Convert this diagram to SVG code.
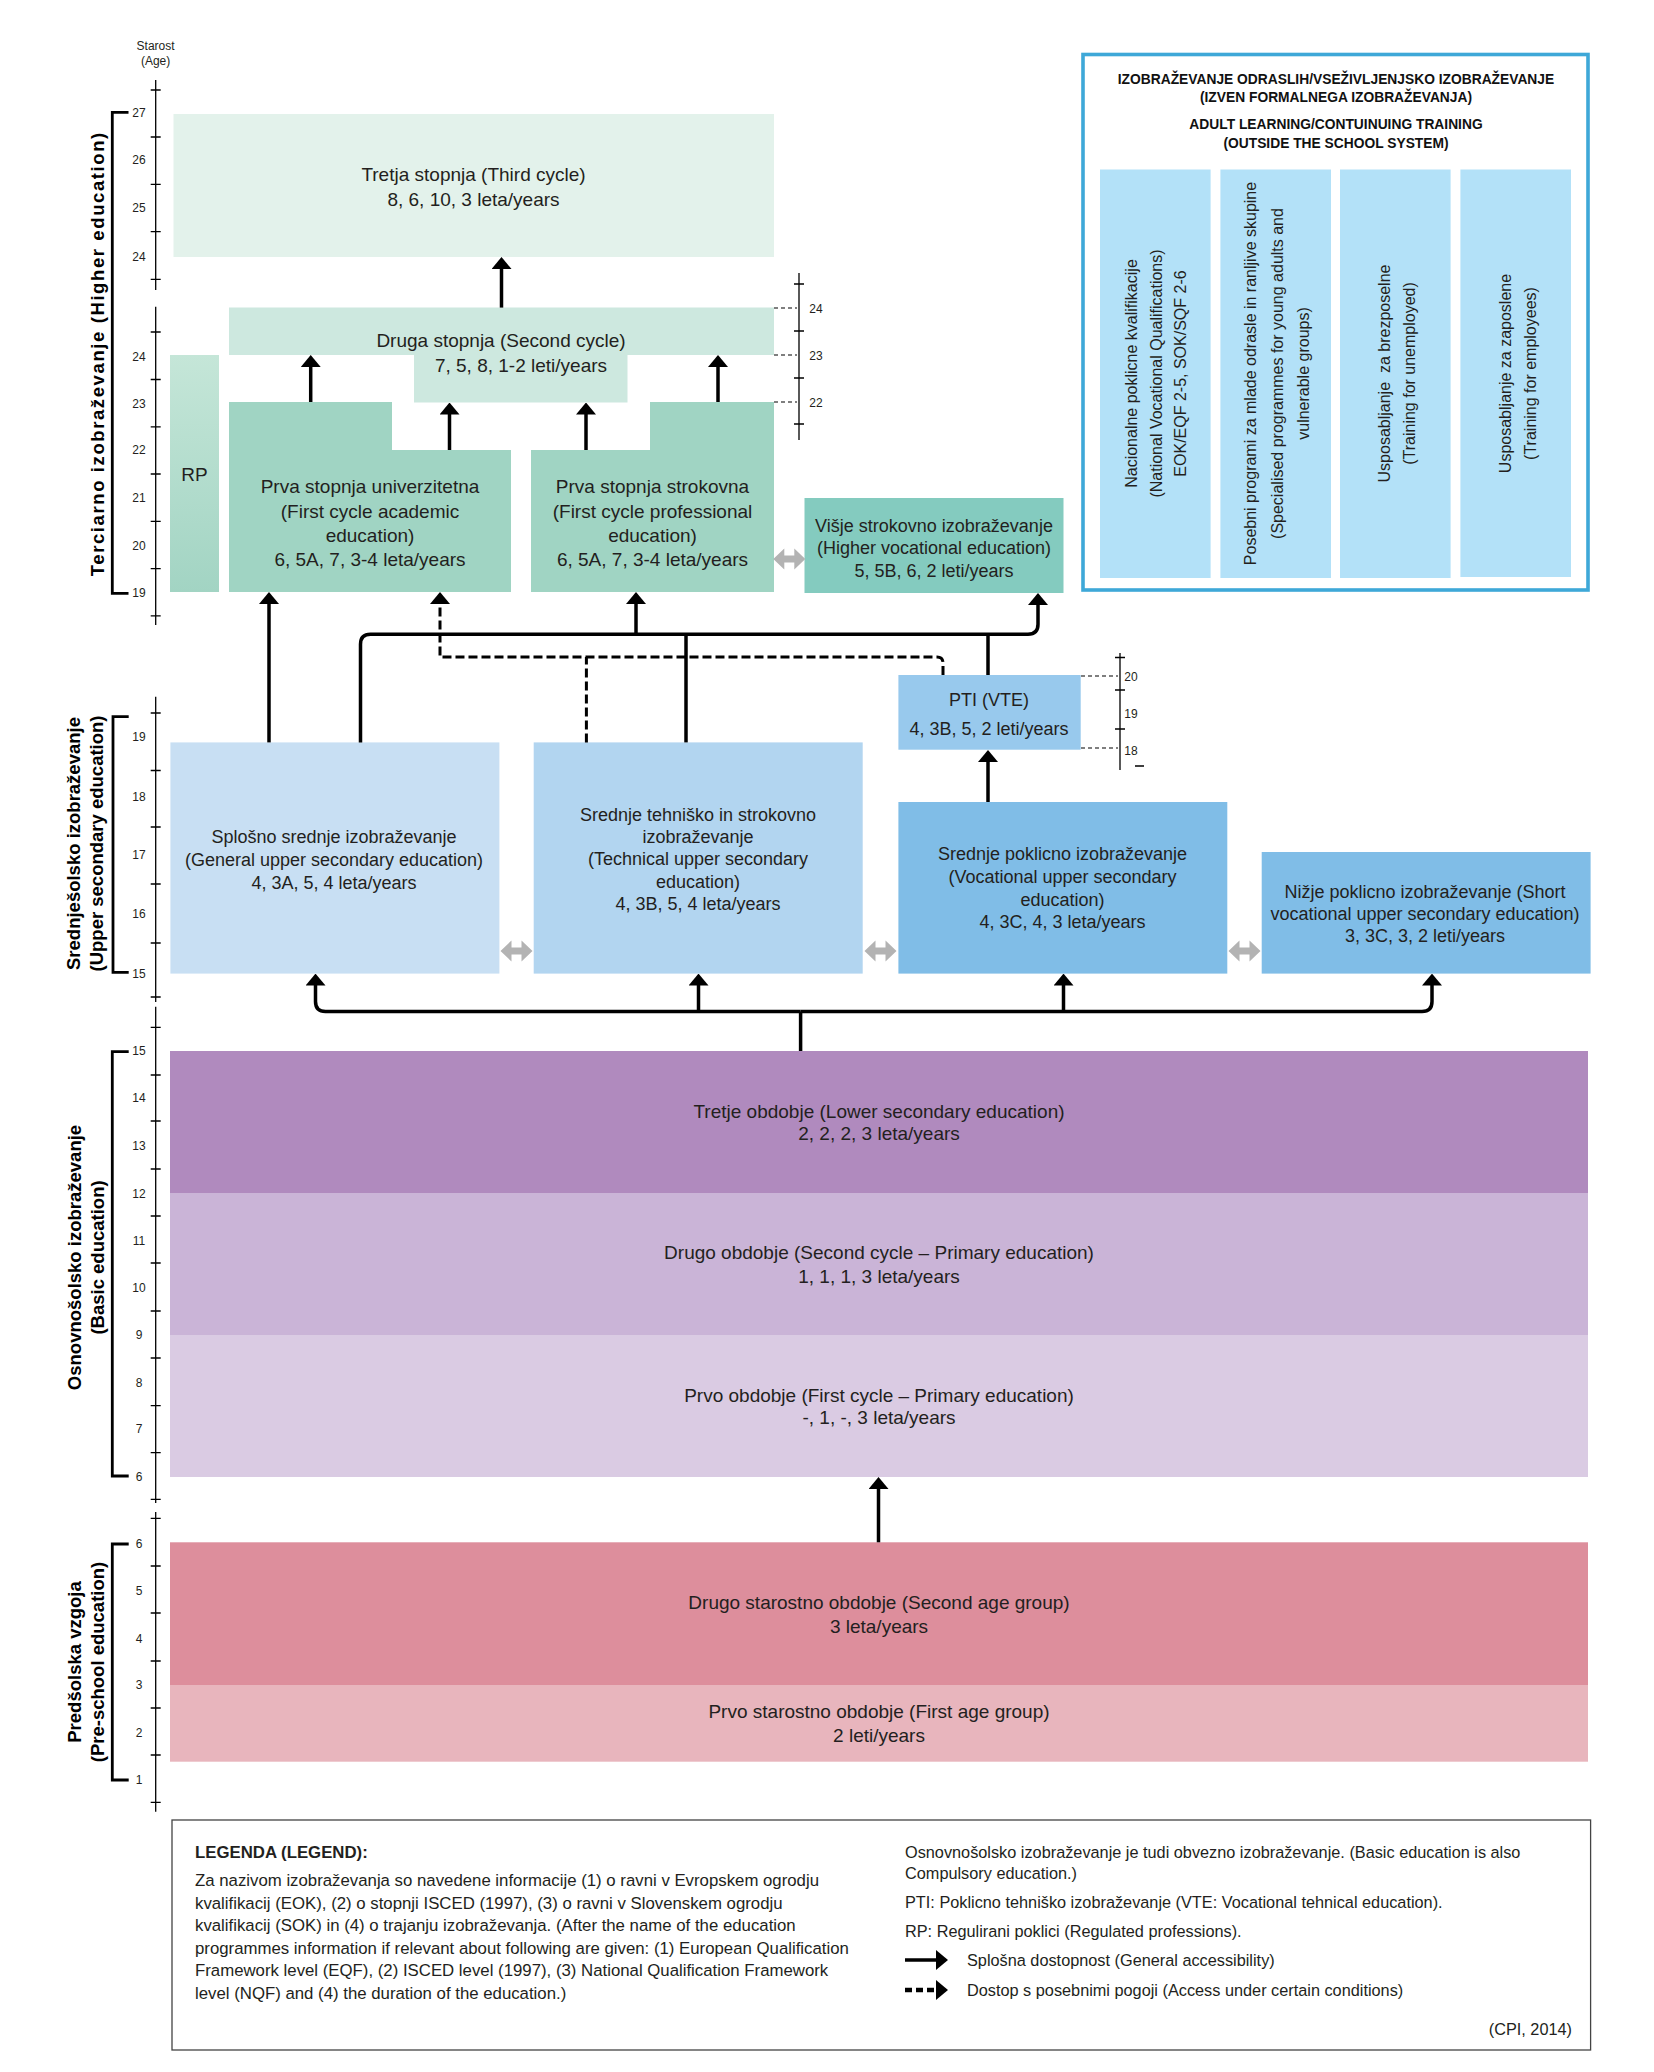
<svg xmlns="http://www.w3.org/2000/svg" xmlns:xlink="http://www.w3.org/1999/xlink" width="1654" height="2072" viewBox="0 0 1654 2072">
<style>
text{font-family:"Liberation Sans",Arial,sans-serif;fill:#231f20}
.bx{font-size:19px;text-anchor:middle}
.sx{font-size:18px;text-anchor:middle}
.ax{font-size:12px;text-anchor:middle}
.lab{font-weight:bold;text-anchor:middle;font-size:18.5px;fill:#000}
.ad{font-size:16px;text-anchor:middle}
.adt{font-size:13.8px;font-weight:bold;text-anchor:middle;fill:#111}
.lg{font-size:16.8px}
.lr{font-size:16.3px}
.axis{stroke:#000;stroke-width:1.3;fill:none}
.brk{stroke:#000;stroke-width:2.8;fill:none}
.sol{stroke:#000;stroke-width:3.5;fill:none}
.dsh{stroke:#000;stroke-width:3;fill:none;stroke-dasharray:9 4}
.thd{stroke:#000;stroke-width:1.2;fill:none;stroke-dasharray:4 3}
</style>
<defs>
<marker id="ah" viewBox="0 0 12 20" refX="8" refY="10" markerWidth="12" markerHeight="20" markerUnits="userSpaceOnUse" orient="auto"><path d="M0,0 L12,10 L0,20 z" fill="#000"/></marker>
<path id="dbl" d="M-16,0 L-5,-10.5 L-5,-3.5 L5,-3.5 L5,-10.5 L16,0 L5,10.5 L5,3.5 L-5,3.5 L-5,10.5 Z" fill="#b3b3b3"/>
<linearGradient id="rpg" x1="0" y1="0" x2="0" y2="1"><stop offset="0" stop-color="#c5e6d8"/><stop offset="1" stop-color="#a2d4c3"/></linearGradient>
</defs>
<rect width="1654" height="2072" fill="#fff"/>

<g id="age-axis">
<text class="ax" x="155.6" y="50" font-size="11">Starost</text>
<text class="ax" x="155.6" y="65" font-size="11">(Age)</text>
<path class="axis" d="M155.7,80V290 M155.7,306.7V625 M155.7,696.7V1002 M155.7,1006.7V1503 M155.7,1512V1811.7"/>
<path class="axis" d="M150.7,90H160.7 M150.7,137H160.7 M150.7,184.3H160.7 M150.7,231.7H160.7 M150.7,279.3H160.7 M150.7,332H160.7 M150.7,379.5H160.7 M150.7,426.8H160.7 M150.7,474H160.7 M150.7,521.3H160.7 M150.7,568.6H160.7 M150.7,615.9H160.7 M150.7,713H160.7 M150.7,770.5H160.7 M150.7,827H160.7 M150.7,884H160.7 M150.7,943H160.7 M150.7,997H160.7 M150.7,1027.3H160.7 M150.7,1075H160.7 M150.7,1121H160.7 M150.7,1169H160.7 M150.7,1216H160.7 M150.7,1263H160.7 M150.7,1311H160.7 M150.7,1358H160.7 M150.7,1405.6H160.7 M150.7,1452.6H160.7 M150.7,1499.3H160.7 M150.7,1518.3H160.7 M150.7,1566H160.7 M150.7,1613H160.7 M150.7,1661H160.7 M150.7,1708H160.7 M150.7,1755H160.7 M150.7,1802.3H160.7"/>
<g>
<text class="ax" x="139" y="116.5">27</text><text class="ax" x="139" y="163.5">26</text><text class="ax" x="139" y="212">25</text><text class="ax" x="139" y="260.5">24</text>
<text class="ax" x="139" y="360.5">24</text><text class="ax" x="139" y="407.5">23</text><text class="ax" x="139" y="454">22</text><text class="ax" x="139" y="501.5">21</text><text class="ax" x="139" y="549.5">20</text><text class="ax" x="139" y="596.5">19</text>
<text class="ax" x="139" y="741">19</text><text class="ax" x="139" y="800.5">18</text><text class="ax" x="139" y="859">17</text><text class="ax" x="139" y="917.5">16</text><text class="ax" x="139" y="977.5">15</text>
<text class="ax" x="139" y="1054.5">15</text><text class="ax" x="139" y="1101.5">14</text><text class="ax" x="139" y="1149.5">13</text><text class="ax" x="139" y="1197.5">12</text><text class="ax" x="139" y="1244.5">11</text><text class="ax" x="139" y="1291.5">10</text><text class="ax" x="139" y="1338.5">9</text><text class="ax" x="139" y="1386.5">8</text><text class="ax" x="139" y="1433">7</text><text class="ax" x="139" y="1481">6</text>
<text class="ax" x="139" y="1547.5">6</text><text class="ax" x="139" y="1594.5">5</text><text class="ax" x="139" y="1642.5">4</text><text class="ax" x="139" y="1688.5">3</text><text class="ax" x="139" y="1736.5">2</text><text class="ax" x="139" y="1783.5">1</text>
</g>
<path class="brk" d="M128.5,112.3H112.3V593.3H128.5 M128.7,716.7H113V972.3H128.7 M128.7,1051.7H112.3V1476H128.7 M128.7,1544H112.3V1780H128.7"/>
<text class="lab" font-size="23" letter-spacing="1.6" transform="translate(103.5,353.7) rotate(-90)">Terciarno izobraževanje (Higher education)</text>
<text class="lab" transform="translate(80,843.5) rotate(-90)">Srednješolsko izobraževanje</text>
<text class="lab" transform="translate(103,843.5) rotate(-90)">(Upper secondary education)</text>
<text class="lab" transform="translate(80.5,1257.5) rotate(-90)">Osnovnošolsko izobraževanje</text>
<text class="lab" transform="translate(104,1257.5) rotate(-90)">(Basic education)</text>
<text class="lab" transform="translate(80.5,1662) rotate(-90)">Predšolska vzgoja</text>
<text class="lab" transform="translate(104,1662) rotate(-90)">(Pre-school education)</text>
</g>

<g id="scale-second-cycle">
<path class="axis" d="M799,273V440 M794,284H804 M794,331H804 M794,378H804 M794,424H804"/>
<path class="thd" d="M774,308H797 M774,355H797 M774,402H797"/>
<text class="ax" x="816" y="312.5">24</text><text class="ax" x="816" y="359.5">23</text><text class="ax" x="816" y="406.5">22</text>
</g>
<g id="scale-pti">
<path class="axis" d="M1120,653V770 M1115,657.5H1125 M1115,690H1125 M1115,729H1125 M1135,766H1144"/>
<path class="thd" d="M1081,676H1118 M1081,748H1118"/>
<text class="ax" x="1131" y="681">20</text><text class="ax" x="1131" y="717.5">19</text><text class="ax" x="1131" y="754.5">18</text>
</g>

<g id="third-cycle">
<rect x="173.5" y="114" width="600.5" height="143" fill="#e3f2eb"/>
<text class="bx" x="473.5" y="180.5">Tretja stopnja (Third cycle)</text>
<text class="bx" x="473.5" y="205.5">8, 6, 10, 3 leta/years</text>
</g>
<g id="second-cycle">
<path d="M229,307.6H774V355H627.5V402.5H414V355H229Z" fill="#cde8df"/>
<text class="bx" x="501" y="347">Druga stopnja (Second cycle)</text>
<text class="bx" x="521" y="372">7, 5, 8, 1-2 leti/years</text>
</g>
<g id="rp">
<rect x="170" y="355" width="49" height="237" fill="url(#rpg)"/>
<text class="bx" x="194.5" y="481">RP</text>
</g>
<g id="first-cycle-academic">
<path d="M229,402H392V450H511V592H229Z" fill="#a0d4c3"/>
<text class="bx" x="370" y="493">Prva stopnja univerzitetna</text>
<text class="bx" x="370" y="517.5">(First cycle academic</text>
<text class="bx" x="370" y="542">education)</text>
<text class="bx" x="370" y="566">6, 5A, 7, 3-4 leta/years</text>
</g>
<g id="first-cycle-professional">
<path d="M531,450H650V402H774V592H531Z" fill="#a0d4c3"/>
<text class="bx" x="652.5" y="493">Prva stopnja strokovna</text>
<text class="bx" x="652.5" y="517.5">(First cycle professional</text>
<text class="bx" x="652.5" y="542">education)</text>
<text class="bx" x="652.5" y="566">6, 5A, 7, 3-4 leta/years</text>
</g>
<g id="higher-vocational">
<rect x="804.5" y="498" width="259" height="95" fill="#84cbbf"/>
<text class="sx" x="934" y="532">Višje strokovno izobraževanje</text>
<text class="sx" x="934" y="554">(Higher vocational education)</text>
<text class="sx" x="934" y="577">5, 5B, 6, 2 leti/years</text>
</g>

<g id="adult-learning">
<rect x="1083" y="54.5" width="505" height="535.5" fill="#fff" stroke="#3ea8d8" stroke-width="3.6"/>
<text class="adt" x="1336" y="84">IZOBRAŽEVANJE ODRASLIH/VSEŽIVLJENJSKO IZOBRAŽEVANJE</text>
<text class="adt" x="1336" y="102">(IZVEN FORMALNEGA IZOBRAŽEVANJA)</text>
<text class="adt" x="1336" y="129">ADULT LEARNING/CONTUINUING TRAINING</text>
<text class="adt" x="1336" y="147.5">(OUTSIDE THE SCHOOL SYSTEM)</text>
<rect x="1100" y="169.5" width="110.6" height="408.5" fill="#b3e1f8"/>
<rect x="1220.4" y="169.5" width="110.6" height="408.5" fill="#b3e1f8"/>
<rect x="1340" y="169.5" width="110.6" height="408.5" fill="#b3e1f8"/>
<rect x="1460.4" y="169.5" width="110.6" height="407.5" fill="#b3e1f8"/>
<text class="ad" transform="translate(1137,373.5) rotate(-90)">Nacionalne poklicne kvalifikacije</text>
<text class="ad" transform="translate(1161.5,373.5) rotate(-90)">(National Vocational Qualifications)</text>
<text class="ad" transform="translate(1186,373.5) rotate(-90)">EOK/EQF 2-5, SOK/SQF 2-6</text>
<text class="ad" transform="translate(1256,373.5) rotate(-90)">Posebni programi za mlade odrasle in ranljive skupine</text>
<text class="ad" transform="translate(1282.5,373.5) rotate(-90)">(Specialised programmes for young adults and</text>
<text class="ad" transform="translate(1309,373.5) rotate(-90)">vulnerable groups)</text>
<text class="ad" transform="translate(1390,373.5) rotate(-90)">Usposabljanje&#160; za brezposelne</text>
<text class="ad" transform="translate(1414.5,373.5) rotate(-90)">(Training for unemployed)</text>
<text class="ad" transform="translate(1510.5,373.5) rotate(-90)">Usposabljanje za zaposlene</text>
<text class="ad" transform="translate(1535.5,373.5) rotate(-90)">(Training for employees)</text>
</g>

<g id="pti">
<rect x="898.4" y="675" width="182.3" height="74.7" fill="#98c9ed"/>
<text class="sx" x="989" y="705.5">PTI (VTE)</text>
<text class="sx" x="989" y="734.5">4, 3B, 5, 2 leti/years</text>
</g>
<g id="general-upper-secondary">
<rect x="170.4" y="742.4" width="329" height="231.2" fill="#c8dff3"/>
<text class="sx" x="334" y="843">Splošno srednje izobraževanje</text>
<text class="sx" x="334" y="865.5">(General upper secondary education)</text>
<text class="sx" x="334" y="888.5">4, 3A, 5, 4 leta/years</text>
</g>
<g id="technical-upper-secondary">
<rect x="533.7" y="742.4" width="329" height="231.2" fill="#b2d5f0"/>
<text class="sx" x="698" y="820.5">Srednje tehniško in strokovno</text>
<text class="sx" x="698" y="842.5">izobraževanje</text>
<text class="sx" x="698" y="865">(Technical upper secondary</text>
<text class="sx" x="698" y="887.5">education)</text>
<text class="sx" x="698" y="910">4, 3B, 5, 4 leta/years</text>
</g>
<g id="vocational-upper-secondary">
<rect x="898.4" y="802" width="328.9" height="171.6" fill="#80bde7"/>
<text class="sx" x="1062.5" y="860">Srednje poklicno izobraževanje</text>
<text class="sx" x="1062.5" y="882.5">(Vocational upper secondary</text>
<text class="sx" x="1062.5" y="905.5">education)</text>
<text class="sx" x="1062.5" y="928">4, 3C, 4, 3 leta/years</text>
</g>
<g id="short-vocational">
<rect x="1261.7" y="852" width="328.9" height="121.6" fill="#80bde7"/>
<text class="sx" x="1425" y="898">Nižje poklicno izobraževanje (Short</text>
<text class="sx" x="1425" y="919.5">vocational upper secondary education)</text>
<text class="sx" x="1425" y="942">3, 3C, 3, 2 leti/years</text>
</g>

<g id="basic-third-period">
<rect x="170" y="1051" width="1418" height="142" fill="#b08abe"/>
<text class="bx" x="879" y="1117.5">Tretje obdobje (Lower secondary education)</text>
<text class="bx" x="879" y="1140">2, 2, 2, 3 leta/years</text>
</g>
<g id="basic-second-period">
<rect x="170" y="1193" width="1418" height="142" fill="#cab4d7"/>
<text class="bx" x="879" y="1259">Drugo obdobje (Second cycle – Primary education)</text>
<text class="bx" x="879" y="1282.5">1, 1, 1, 3 leta/years</text>
</g>
<g id="basic-first-period">
<rect x="170" y="1335" width="1418" height="142" fill="#dacbe3"/>
<text class="bx" x="879" y="1401.5">Prvo obdobje (First cycle – Primary education)</text>
<text class="bx" x="879" y="1424">-, 1, -, 3 leta/years</text>
</g>
<g id="preschool-second-age">
<rect x="170" y="1542.3" width="1418" height="142.7" fill="#dd8e9c"/>
<text class="bx" x="879" y="1609">Drugo starostno obdobje (Second age group)</text>
<text class="bx" x="879" y="1632.5">3 leta/years</text>
</g>
<g id="preschool-first-age">
<rect x="170" y="1685" width="1418" height="76.7" fill="#e8b5bd"/>
<text class="bx" x="879" y="1717.5">Prvo starostno obdobje (First age group)</text>
<text class="bx" x="879" y="1742">2 leti/years</text>
</g>

<g id="connectors">
<path class="sol" marker-end="url(#ah)" d="M501.5,307.6V261"/>
<path class="sol" marker-end="url(#ah)" d="M310.7,402V359"/>
<path class="sol" marker-end="url(#ah)" d="M718,402V359"/>
<path class="sol" marker-end="url(#ah)" d="M449.5,450V406.5"/>
<path class="sol" marker-end="url(#ah)" d="M586,450V406.5"/>
<path class="sol" marker-end="url(#ah)" d="M269,742.4V596"/>
<path class="sol" marker-end="url(#ah)" d="M360.5,742.4V644.3Q360.5,634.3 370.5,634.3H1028Q1038,634.3 1038,624.3V597"/>
<path class="sol" marker-end="url(#ah)" d="M636,634.3V596"/>
<path class="sol" d="M686,742.4V634.3"/>
<path class="sol" d="M988,675V634.3"/>
<path class="sol" marker-end="url(#ah)" d="M988,802V754"/>
<path class="dsh" marker-end="url(#ah)" d="M943,675V663Q943,657 937,657H440V596"/>
<path class="dsh" d="M586.4,742.4V657"/>
<path class="sol" d="M800.6,1051V1011.5"/>
<path class="sol" marker-end="url(#ah)" d="M800.6,1011.5H325.5Q315.5,1011.5 315.5,1001.5V977.6"/>
<path class="sol" marker-end="url(#ah)" d="M800.6,1011.5H1422Q1432,1011.5 1432,1001.5V977.6"/>
<path class="sol" marker-end="url(#ah)" d="M698.5,1011.5V977.6"/>
<path class="sol" marker-end="url(#ah)" d="M1063.5,1011.5V977.6"/>
<path class="sol" marker-end="url(#ah)" d="M878.5,1542.3V1481"/>
<use xlink:href="#dbl" transform="translate(789.3,559)"/>
<use xlink:href="#dbl" transform="translate(516.5,951)"/>
<use xlink:href="#dbl" transform="translate(880.5,951)"/>
<use xlink:href="#dbl" transform="translate(1244.5,951)"/>
</g>

<g id="legend">
<rect x="172" y="1820" width="1418.6" height="230" fill="none" stroke="#444" stroke-width="1.3"/>
<text class="lg" x="195" y="1858" font-weight="bold" font-size="15.5">LEGENDA (LEGEND):</text>
<text class="lg" x="195" y="1886">Za nazivom izobraževanja so navedene informacije (1) o ravni v Evropskem ogrodju</text>
<text class="lg" x="195" y="1908.5">kvalifikacij (EOK), (2) o stopnji ISCED (1997), (3) o ravni v Slovenskem ogrodju</text>
<text class="lg" x="195" y="1931">kvalifikacij (SOK) in (4) o trajanju izobraževanja. (After the name of the education</text>
<text class="lg" x="195" y="1953.5">programmes information if relevant about following are given: (1) European Qualification</text>
<text class="lg" x="195" y="1976">Framework level (EQF), (2) ISCED level (1997), (3) National Qualification Framework</text>
<text class="lg" x="195" y="1998.5">level (NQF) and (4) the duration of the education.)</text>
<text class="lr" x="905" y="1858">Osnovnošolsko izobraževanje je tudi obvezno izobraževanje. (Basic education is also</text>
<text class="lr" x="905" y="1879">Compulsory education.)</text>
<text class="lr" x="905" y="1908">PTI: Poklicno tehniško izobraževanje (VTE: Vocational tehnical education).</text>
<text class="lr" x="905" y="1937">RP: Regulirani poklici (Regulated professions).</text>
<path class="sol" marker-end="url(#ah)" d="M905,1960H944"/>
<text class="lr" x="967" y="1965.5">Splošna dostopnost (General accessibility)</text>
<path stroke="#000" stroke-width="4.5" fill="none" stroke-dasharray="7 4" marker-end="url(#ah)" d="M905,1990H944"/>
<text class="lr" x="967" y="1996">Dostop s posebnimi pogoji (Access under certain conditions)</text>
<text class="lr" x="1572" y="2035" text-anchor="end">(CPI, 2014)</text>
</g>
</svg>
